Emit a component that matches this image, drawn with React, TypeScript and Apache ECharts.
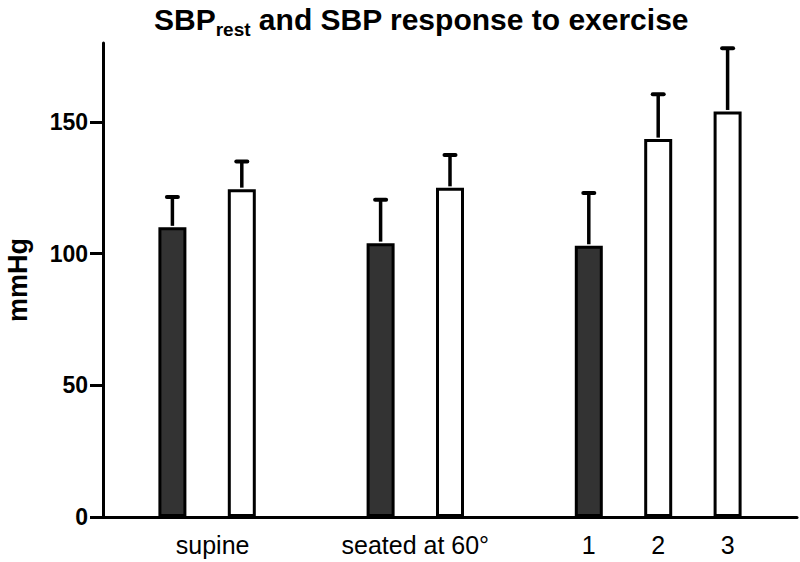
import React, { useEffect, useRef } from "react";
import * as echarts from "echarts";

const slots = ["", "supine-rest", "supine-ex", "", "seated-rest", "seated-ex", "", "1", "2", "3", ""];
const slotLabels = ["", "", "", "", "", "", "", "1", "2", "3", ""];
const groupLabels = ["", "supine", "", "", "seated at 60°", "", "", "", "", ""];
const restMean = [null, 110, null, null, 104, null, null, 103, null, null, null];
const restSd = [null, 11.5, null, null, 16.5, null, null, 20, null, null, null];
const exMean = [null, null, 124.5, null, null, 125, null, null, 143.5, 154, null];
const exSd = [null, null, 10.5, null, null, 12.5, null, null, 17, 24, null];
const yTicks = [0, 50, 100, 150];

const FONT = "'Liberation Sans', Arial, Helvetica, sans-serif";

export default function App() {
  const ref = useRef<HTMLDivElement>(null);
  useEffect(() => {
    if (!ref.current) return;
    const chart = echarts.init(ref.current, undefined, { renderer: "svg" });
    const errData: any[] = [];
    slots.forEach((_, i) => {
      if (restMean[i] != null) errData.push([i, restMean[i], restSd[i]]);
      if (exMean[i] != null) errData.push([i, exMean[i], exSd[i]]);
    });
    chart.setOption({
      animation: false,
      backgroundColor: "#ffffff",
      title: {
        text: "{a|SBP}{b|rest}{a| and SBP response to exercise}",
        left: 149,
        top: -6,
        textStyle: {
          rich: {
            a: { fontFamily: FONT, fontWeight: "bold", fontSize: 30, color: "#000", lineHeight: 40, verticalAlign: "middle" },
            b: { fontFamily: FONT, fontWeight: "bold", fontSize: 19, color: "#000", lineHeight: 18, verticalAlign: "bottom" },
          },
        },
      },
      grid: { left: 103, right: 3, top: 43, bottom: 45, containLabel: false, outerBoundsMode: "none" },
      xAxis: [
        {
          type: "category",
          data: slots,
          boundaryGap: false,
          position: "bottom",
          axisLine: { show: true, lineStyle: { color: "#000", width: 3 } },
          axisTick: { show: false },
          splitLine: { show: false },
          axisLabel: {
            interval: 0,
            margin: 15,
            fontFamily: FONT,
            fontSize: 25,
            color: "#000",
            formatter: (_v: string, idx: number) => slotLabels[idx],
          },
        },
        {
          type: "category",
          data: groupLabels.map((g) =>
            g === "supine" ? { value: g, textStyle: { padding: [0, 0, 0, 11] } } : g
          ),
          boundaryGap: true,
          position: "bottom",
          axisLine: { show: false },
          axisTick: { show: false },
          splitLine: { show: false },
          axisLabel: { interval: 0, margin: 15, fontFamily: FONT, fontSize: 25, color: "#000" },
        },
      ],
      yAxis: {
        type: "value",
        min: 0,
        max: 180,
        name: "mmHg",
        nameLocation: "middle",
        nameGap: 72,
        nameRotate: 90,
        nameTextStyle: { fontFamily: FONT, fontWeight: "bold", fontSize: 27, color: "#000" },
        axisLine: { show: true, lineStyle: { color: "#000", width: 3 } },
        axisTick: { show: true, length: 13, lineStyle: { color: "#000", width: 3 }, customValues: yTicks },
        axisLabel: { margin: 15, fontFamily: FONT, fontWeight: "bold", fontSize: 23, color: "#000", customValues: yTicks },
        splitLine: { show: false },
      },
      series: [
        {
          type: "bar",
          data: restMean,
          barWidth: 28,
          barGap: "-100%",
          itemStyle: { color: "#333333", borderColor: "#000", borderWidth: 3 },
          z: 2,
        },
        {
          type: "bar",
          data: exMean,
          barWidth: 28,
          barGap: "-100%",
          itemStyle: { color: "#ffffff", borderColor: "#000", borderWidth: 3 },
          z: 2,
        },
        {
          type: "custom",
          data: errData,
          z: 3,
          renderItem: (_params: any, api: any) => {
            const x = api.value(0);
            const m = api.value(1);
            const s = api.value(2);
            const p0 = api.coord([x, m]);
            const p1 = api.coord([x, m + s]);
            return {
              type: "group",
              children: [
                {
                  type: "line",
                  shape: { x1: p0[0], y1: p0[1] - 1.5, x2: p1[0], y2: p1[1] },
                  style: { stroke: "#000", lineWidth: 3.5 },
                },
                {
                  type: "line",
                  shape: { x1: p1[0] - 5.5, y1: p1[1], x2: p1[0] + 5.5, y2: p1[1] },
                  style: { stroke: "#000", lineWidth: 4, lineCap: "round" },
                },
              ],
            };
          },
        },
      ],
    });
    return () => chart.dispose();
  }, []);
  return <div ref={ref} style={{ width: 800, height: 562, position: "absolute", left: 0, top: 0 }} />;
}
